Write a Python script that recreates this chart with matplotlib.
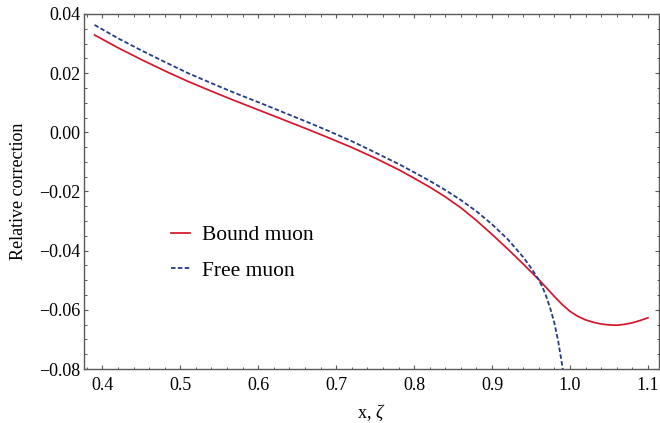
import matplotlib
matplotlib.use("Agg")
import matplotlib.pyplot as plt
from matplotlib.ticker import MultipleLocator, FuncFormatter

plt.rcParams['font.family'] = ['Liberation Serif', 'DejaVu Serif']
plt.rcParams['mathtext.fontset'] = 'custom'
plt.rcParams['mathtext.rm'] = 'Liberation Serif'
plt.rcParams['mathtext.it'] = 'Liberation Serif:italic'

# Bound muon (red, solid)
bound_x = [0.39, 0.42, 0.45, 0.48, 0.51, 0.54, 0.57, 0.60, 0.63, 0.66, 0.69, 0.72,
           0.75, 0.78, 0.80, 0.82, 0.84, 0.86, 0.88, 0.90, 0.92, 0.94, 0.96, 0.97,
           0.98, 0.99, 1.00, 1.01, 1.02, 1.03, 1.04, 1.05, 1.06, 1.07, 1.08, 1.09, 1.10]
bound_y = [0.0329, 0.0286, 0.0246, 0.0208, 0.0172, 0.0139, 0.0107, 0.0076, 0.0045,
           0.0014, -0.0018, -0.0051, -0.0087, -0.0126, -0.0155, -0.0185, -0.0218,
           -0.0255, -0.0298, -0.0345, -0.0394, -0.0445, -0.0498, -0.0526, -0.0555,
           -0.0582, -0.0605, -0.0622, -0.0634, -0.0642, -0.0648, -0.0651, -0.0652,
           -0.0649, -0.0644, -0.0636, -0.0627]

# Free muon (blue, dashed)
free_x = [0.39, 0.42, 0.45, 0.48, 0.51, 0.54, 0.57, 0.60, 0.63, 0.66, 0.69, 0.72,
          0.75, 0.78, 0.80, 0.82, 0.84, 0.86, 0.88, 0.90, 0.92, 0.94, 0.95, 0.96,
          0.965, 0.97, 0.975, 0.98, 0.985, 0.99, 0.993]
free_y = [0.0363, 0.0318, 0.0277, 0.0238, 0.0200, 0.0166, 0.0133, 0.0102, 0.0070,
          0.0038, 0.0005, -0.0030, -0.0068, -0.0107, -0.0135, -0.0164, -0.0195,
          -0.0229, -0.0267, -0.0311, -0.0361, -0.0422, -0.0458, -0.0499, -0.0525,
          -0.0558, -0.0598, -0.0645, -0.0708, -0.0788, -0.0840]

x_ticks = [0.4, 0.5, 0.6, 0.7, 0.8, 0.9, 1.0, 1.1]
y_ticks = [-0.08, -0.06, -0.04, -0.02, 0.00, 0.02, 0.04]

red = '#D3162C'
blue = '#243C86'
frame = '#5a5a5a'

fig = plt.figure(figsize=(6.6, 4.23), dpi=100)
ax = fig.add_axes([83.5/660, 1 - 369/423, (659 - 83.5)/660, (369 - 14)/423])

ax.plot(bound_x, bound_y, color=red, lw=1.25, label='Bound muon')
ax.plot(free_x, free_y, color=blue, lw=1.3, dashes=(2.5, 1.3), label='Free muon')

ax.set_xlim(0.3758, 1.1142)
ax.set_ylim(-0.08, 0.04)
ax.set_xticks(x_ticks)
ax.set_yticks(y_ticks)
ax.xaxis.set_minor_locator(MultipleLocator(0.02))
ax.yaxis.set_minor_locator(MultipleLocator(0.005))
ax.xaxis.set_major_formatter(FuncFormatter(lambda v, p: f'{v:.1f}'))
ax.yaxis.set_major_formatter(FuncFormatter(lambda v, p: f'{v:.2f}'.replace('-', '\u2212') if abs(v) > 1e-9 else '0.00'))

for s in ax.spines.values():
    s.set_color(frame)
    s.set_linewidth(1.0)
ax.tick_params(which='both', direction='in', top=True, right=True, color=frame,
               labelsize=13, labelcolor='black')
ax.tick_params(which='major', length=3.2, width=0.8)
ax.tick_params(which='minor', length=1.8, width=0.7)
ax.tick_params(axis='x', which='major', pad=6)
ax.tick_params(axis='y', which='major', pad=2)

ax.set_xlabel('x, $\\zeta$', fontsize=13)
ax.set_ylabel('Relative correction', fontsize=13)
ax.xaxis.set_label_coords(0.5, -0.095)
ax.yaxis.set_label_coords(-0.113, 0.5)
ax.xaxis.label.set_va('top')
ax.yaxis.label.set_va('center')

ax.legend(loc='center left', bbox_to_anchor=(171/660, 1 - 252.9/423),
          bbox_transform=fig.transFigure, frameon=False, fontsize=15.5,
          handlelength=0.88, handletextpad=0.56, labelspacing=0.72,
          borderpad=0, borderaxespad=0)

fig.savefig('out.png', dpi=100)
